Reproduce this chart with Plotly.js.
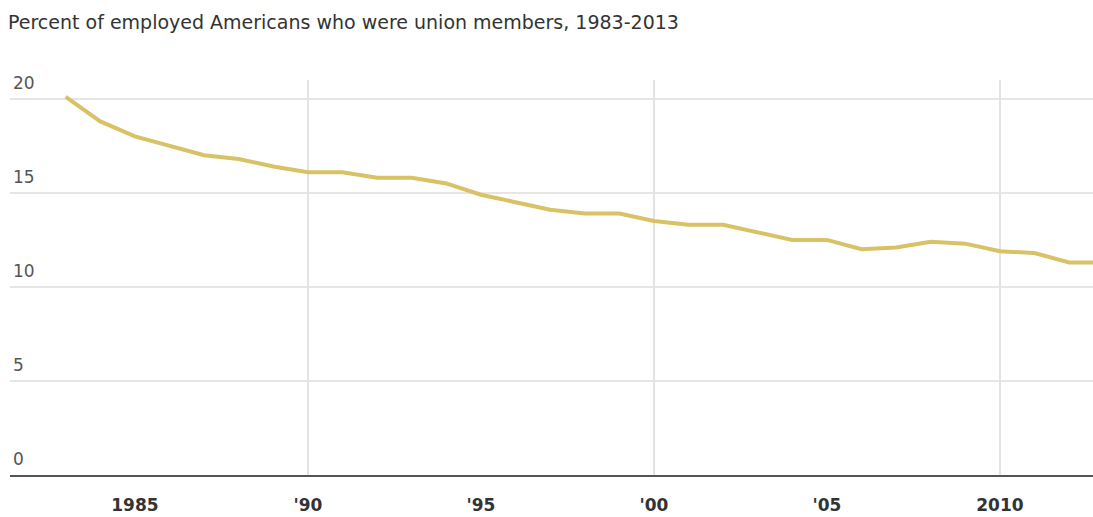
<!DOCTYPE html>
<html>
<head>
<meta charset="utf-8">
<script src="https://cdn.plot.ly/plotly-3.0.1.min.js"></script>
<style>
html,body{margin:0;padding:0;background:#fff;}
#chart{width:1093px;height:517px;}
</style>
</head>
<body>
<div id="chart"></div>
<script>
var years = [1983,1984,1985,1986,1987,1988,1989,1990,1991,1992,1993,1994,1995,1996,1997,1998,1999,2000,2001,2002,2003,2004,2005,2006,2007,2008,2009,2010,2011,2012,2013];
var unionPct = [20.1,18.8,18.0,17.5,17.0,16.8,16.4,16.1,16.1,15.8,15.8,15.5,14.9,14.5,14.1,13.9,13.9,13.5,13.3,13.3,12.9,12.5,12.5,12.0,12.1,12.4,12.3,11.9,11.8,11.3,11.3];
var xTickVals = [1985,1990,1995,2000,2005,2010];
var xTickText = ['1985',"'90","'95","'00","'05",'2010'];
var xGridVals = [1990,2000,2010];
var yTickVals = [0,5,10,15,20];
var yTickText = ['0','5','10','15','20'];
var titleText = 'Percent of employed Americans who were union members, 1983-2013';

var xRange = [1981.39, 2012.69];
var FONT = 'DejaVu Sans, sans-serif';

var data = [
  {x: years, y: unionPct, type: 'scatter', mode: 'lines',
   line: {color: '#d8c265', width: 4}, hoverinfo: 'x+y', xaxis: 'x', yaxis: 'y'},
  {x: [xRange[0]], y: [0], type: 'scatter', mode: 'markers', marker: {opacity: 0},
   xaxis: 'x2', yaxis: 'y', showlegend: false, hoverinfo: 'skip'}
];

var annotations = yTickVals.map(function (v, i) {
  return {xref: 'paper', x: 0, xanchor: 'left', xshift: 1,
          yref: 'y', y: v, yanchor: 'bottom', yshift: 4,
          text: yTickText[i], showarrow: false,
          font: {size: 17, color: '#555', family: FONT}};
});

var layout = {
  width: 1093, height: 517,
  margin: {l: 10, r: 0, t: 80, b: 42},
  paper_bgcolor: '#ffffff', plot_bgcolor: 'rgba(0,0,0,0)',
  showlegend: false,
  font: {family: FONT, color: '#333'},
  title: {text: titleText, x: 8/1093, xanchor: 'left', xref: 'container',
          y: 1 - 22/517, yanchor: 'middle', yref: 'container',
          font: {size: 19, color: '#333', family: FONT}},
  xaxis: {range: xRange, tickvals: xTickVals, ticktext: xTickText,
          showgrid: false, zeroline: false, showline: true, linecolor: '#555', linewidth: 2,
          ticks: '', tickfont: {size: 17, color: '#333', family: FONT, weight: 'bold'},
          ticklabelstandoff: 14},
  xaxis2: {range: xRange, overlaying: 'x', tickvals: xGridVals, showticklabels: false,
           showgrid: true, gridcolor: '#e3e3e3', gridwidth: 1.5, zeroline: false, ticks: '', layer: 'below traces'},
  yaxis: {range: [0, 21], tickvals: yTickVals, showgrid: true, gridcolor: '#e6e6e6', gridwidth: 1.5,
          zeroline: false, showline: false, ticks: '', showticklabels: false},
  annotations: annotations
};

Plotly.newPlot('chart', data, layout, {displayModeBar: false, staticPlot: true});
</script>
</body>
</html>
